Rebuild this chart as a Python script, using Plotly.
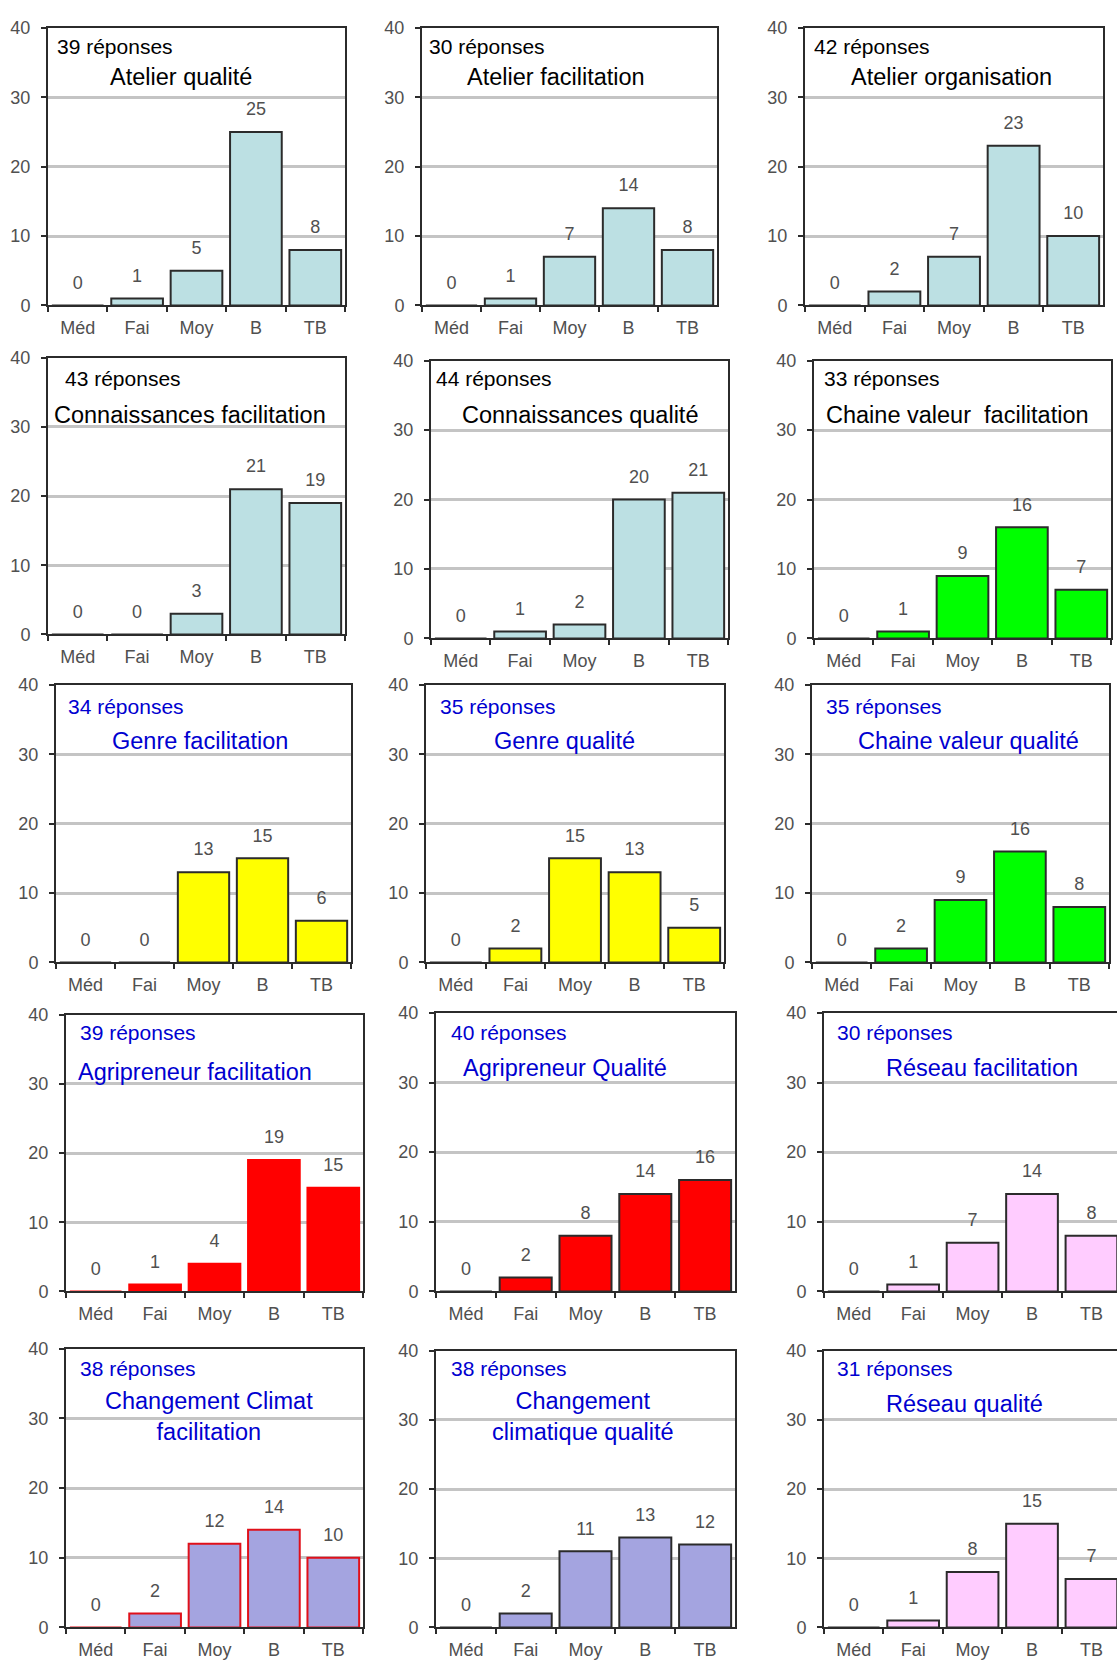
import plotly.graph_objects as go

W, H = 1117, 1670

categories = ["Méd", "Fai", "Moy", "B", "TB"]
y_ticks = [0, 10, 20, 30, 40]

titles = [
    "Atelier qualité", "Atelier facilitation", "Atelier organisation",
    "Connaissances facilitation", "Connaissances qualité", "Chaine valeur  facilitation",
    "Genre facilitation", "Genre qualité", "Chaine valeur qualité",
    "Agripreneur facilitation", "Agripreneur Qualité", "Réseau facilitation",
    "Changement Climat<br>facilitation", "Changement<br>climatique qualité", "Réseau qualité",
]
responses = [39, 30, 42, 43, 44, 33, 34, 35, 35, 39, 40, 30, 38, 38, 31]

atelier_qualite = [0, 1, 5, 25, 8]
atelier_facilitation = [0, 1, 7, 14, 8]
atelier_organisation = [0, 2, 7, 23, 10]
connaissances_facilitation = [0, 0, 3, 21, 19]
connaissances_qualite = [0, 1, 2, 20, 21]
chaine_valeur_facilitation = [0, 1, 9, 16, 7]
genre_facilitation = [0, 0, 13, 15, 6]
genre_qualite = [0, 2, 15, 13, 5]
chaine_valeur_qualite = [0, 2, 9, 16, 8]
agripreneur_facilitation = [0, 1, 4, 19, 15]
agripreneur_qualite = [0, 2, 8, 14, 16]
reseau_facilitation = [0, 1, 7, 14, 8]
changement_climat_facilitation = [0, 2, 12, 14, 10]
changement_climatique_qualite = [0, 2, 11, 13, 12]
reseau_qualite = [0, 1, 8, 15, 7]

series = [
    atelier_qualite, atelier_facilitation, atelier_organisation,
    connaissances_facilitation, connaissances_qualite, chaine_valeur_facilitation,
    genre_facilitation, genre_qualite, chaine_valeur_qualite,
    agripreneur_facilitation, agripreneur_qualite, reseau_facilitation,
    changement_climat_facilitation, changement_climatique_qualite, reseau_qualite,
]

# styling (not data)
LB, GR, YE, RE, PK, LV = "#bce0e3", "#00ff00", "#ffff00", "#ff0000", "#ffccff", "#a4a4e0"
DK = "#2b2b2b"
fills = [LB, LB, LB, LB, LB, GR, YE, YE, GR, RE, RE, PK, LV, LV, PK]
edges = [DK, DK, DK, DK, DK, DK, DK, DK, DK, RE, DK, DK, "#e0101a", DK, DK]
title_colors = ["#000000"] * 6 + ["#0000d0"] * 9

# panel boxes in pixels: left, right, top, bottom
boxes = [
    (48, 345, 18, 299), (422, 717, 18, 299), (805, 1103, 18, 299),
    (48, 345, 352, 632), (431, 728, 355, 636), (814, 1111, 355, 636),
    (56, 351, 683, 964), (426, 724, 683, 964), (812, 1109, 683, 964),
    (66, 363, 1017, 1297), (436, 735, 1015, 1297), (824, 1117, 1015, 1297),
    (66, 363, 1355, 1637), (436, 735, 1357, 1637), (824, 1117, 1357, 1637),
]
# label positions: (resp_left_x, resp_y, title_center_x, title_y)
label_pos = [
    (55, 37, 181, 68), (427, 37, 556, 68), (812, 37, 952, 68),
    (63, 373, 190, 410), (434, 373, 580, 410), (822, 373, 957, 410),
    (66, 705, 200, 740), (438, 705, 564, 740), (824, 705, 968, 740),
    (78, 1035, 195, 1075), (449, 1035, 565, 1071), (835, 1035, 982, 1071),
    (78, 1375, 209, 1424), (449, 1375, 583, 1424), (835, 1375, 964, 1411),
]

FONT = "Liberation Sans, Arial, sans-serif"
GREY_TXT = "#505050"

fig = go.Figure()
layout = dict(
    width=W, height=H, margin=dict(l=0, r=0, t=0, b=0),
    paper_bgcolor="white", plot_bgcolor="white",
    showlegend=False, bargap=0.13, font=dict(family=FONT),
    annotations=[],
)

for i, vals in enumerate(series):
    n = "" if i == 0 else str(i + 1)
    xa, ya = "x" + n, "y" + n
    l, r, t, b = boxes[i]
    cut = r >= W
    fig.add_trace(go.Bar(
        x=categories, y=vals, xaxis=xa, yaxis=ya,
        marker=dict(color=fills[i], line=dict(color=edges[i], width=2)),
        hoverinfo="skip",
    ))
    fig.add_trace(go.Scatter(
        x=categories, y=vals, xaxis=xa, yaxis=ya, mode="markers+text",
        text=[str(v) for v in vals], textposition="top center",
        marker=dict(size=18, color="rgba(0,0,0,0)"),
        textfont=dict(size=18, color=GREY_TXT, family=FONT),
        cliponaxis=False, hoverinfo="skip",
    ))
    layout["xaxis" + n] = dict(
        domain=[l / W, min(r / W, 1.0)], anchor=ya, type="category",
        range=[-0.5, 4.43] if cut else [-0.5, 4.5],
        tickson="boundaries", ticks="outside", ticklen=5, tickwidth=1.5, tickcolor=DK,
        showline=True, linecolor=DK, linewidth=2, mirror=True,
        showgrid=False, ticklabelstandoff=5,
        tickfont=dict(size=18, color=GREY_TXT, family=FONT), fixedrange=True,
    )
    layout["yaxis" + n] = dict(
        domain=[1 - b / H, 1 - t / H], anchor=xa, range=[0, 40],
        tickvals=y_ticks, ticks="outside", ticklen=5, tickwidth=1.5, tickcolor=DK,
        showline=True, linecolor=DK, linewidth=2, mirror=not cut,
        showgrid=True, gridcolor="#c4c4c4", gridwidth=3, zeroline=False,
        ticklabelstandoff=7,
        tickfont=dict(size=18, color=GREY_TXT, family=FONT), fixedrange=True,
    )
    rx, ry, tx, ty = label_pos[i]
    layout["annotations"].append(dict(
        xref="paper", yref="paper", x=rx / W, y=1 - ry / H,
        xanchor="left", yanchor="middle", showarrow=False,
        text=f"{responses[i]} réponses",
        font=dict(size=21, color=title_colors[i], family=FONT),
    ))
    layout["annotations"].append(dict(
        xref="paper", yref="paper", x=tx / W, y=1 - ty / H,
        xanchor="center", yanchor="middle", showarrow=False,
        text=titles[i], align="center",
        font=dict(size=23.5, color=title_colors[i], family=FONT),
    ))

fig.update_layout(**layout)
fig.write_html(
    "out.html",
    config={"displayModeBar": False},
    post_script="document.body.style.margin='0';document.body.style.overflow='hidden';",
)
